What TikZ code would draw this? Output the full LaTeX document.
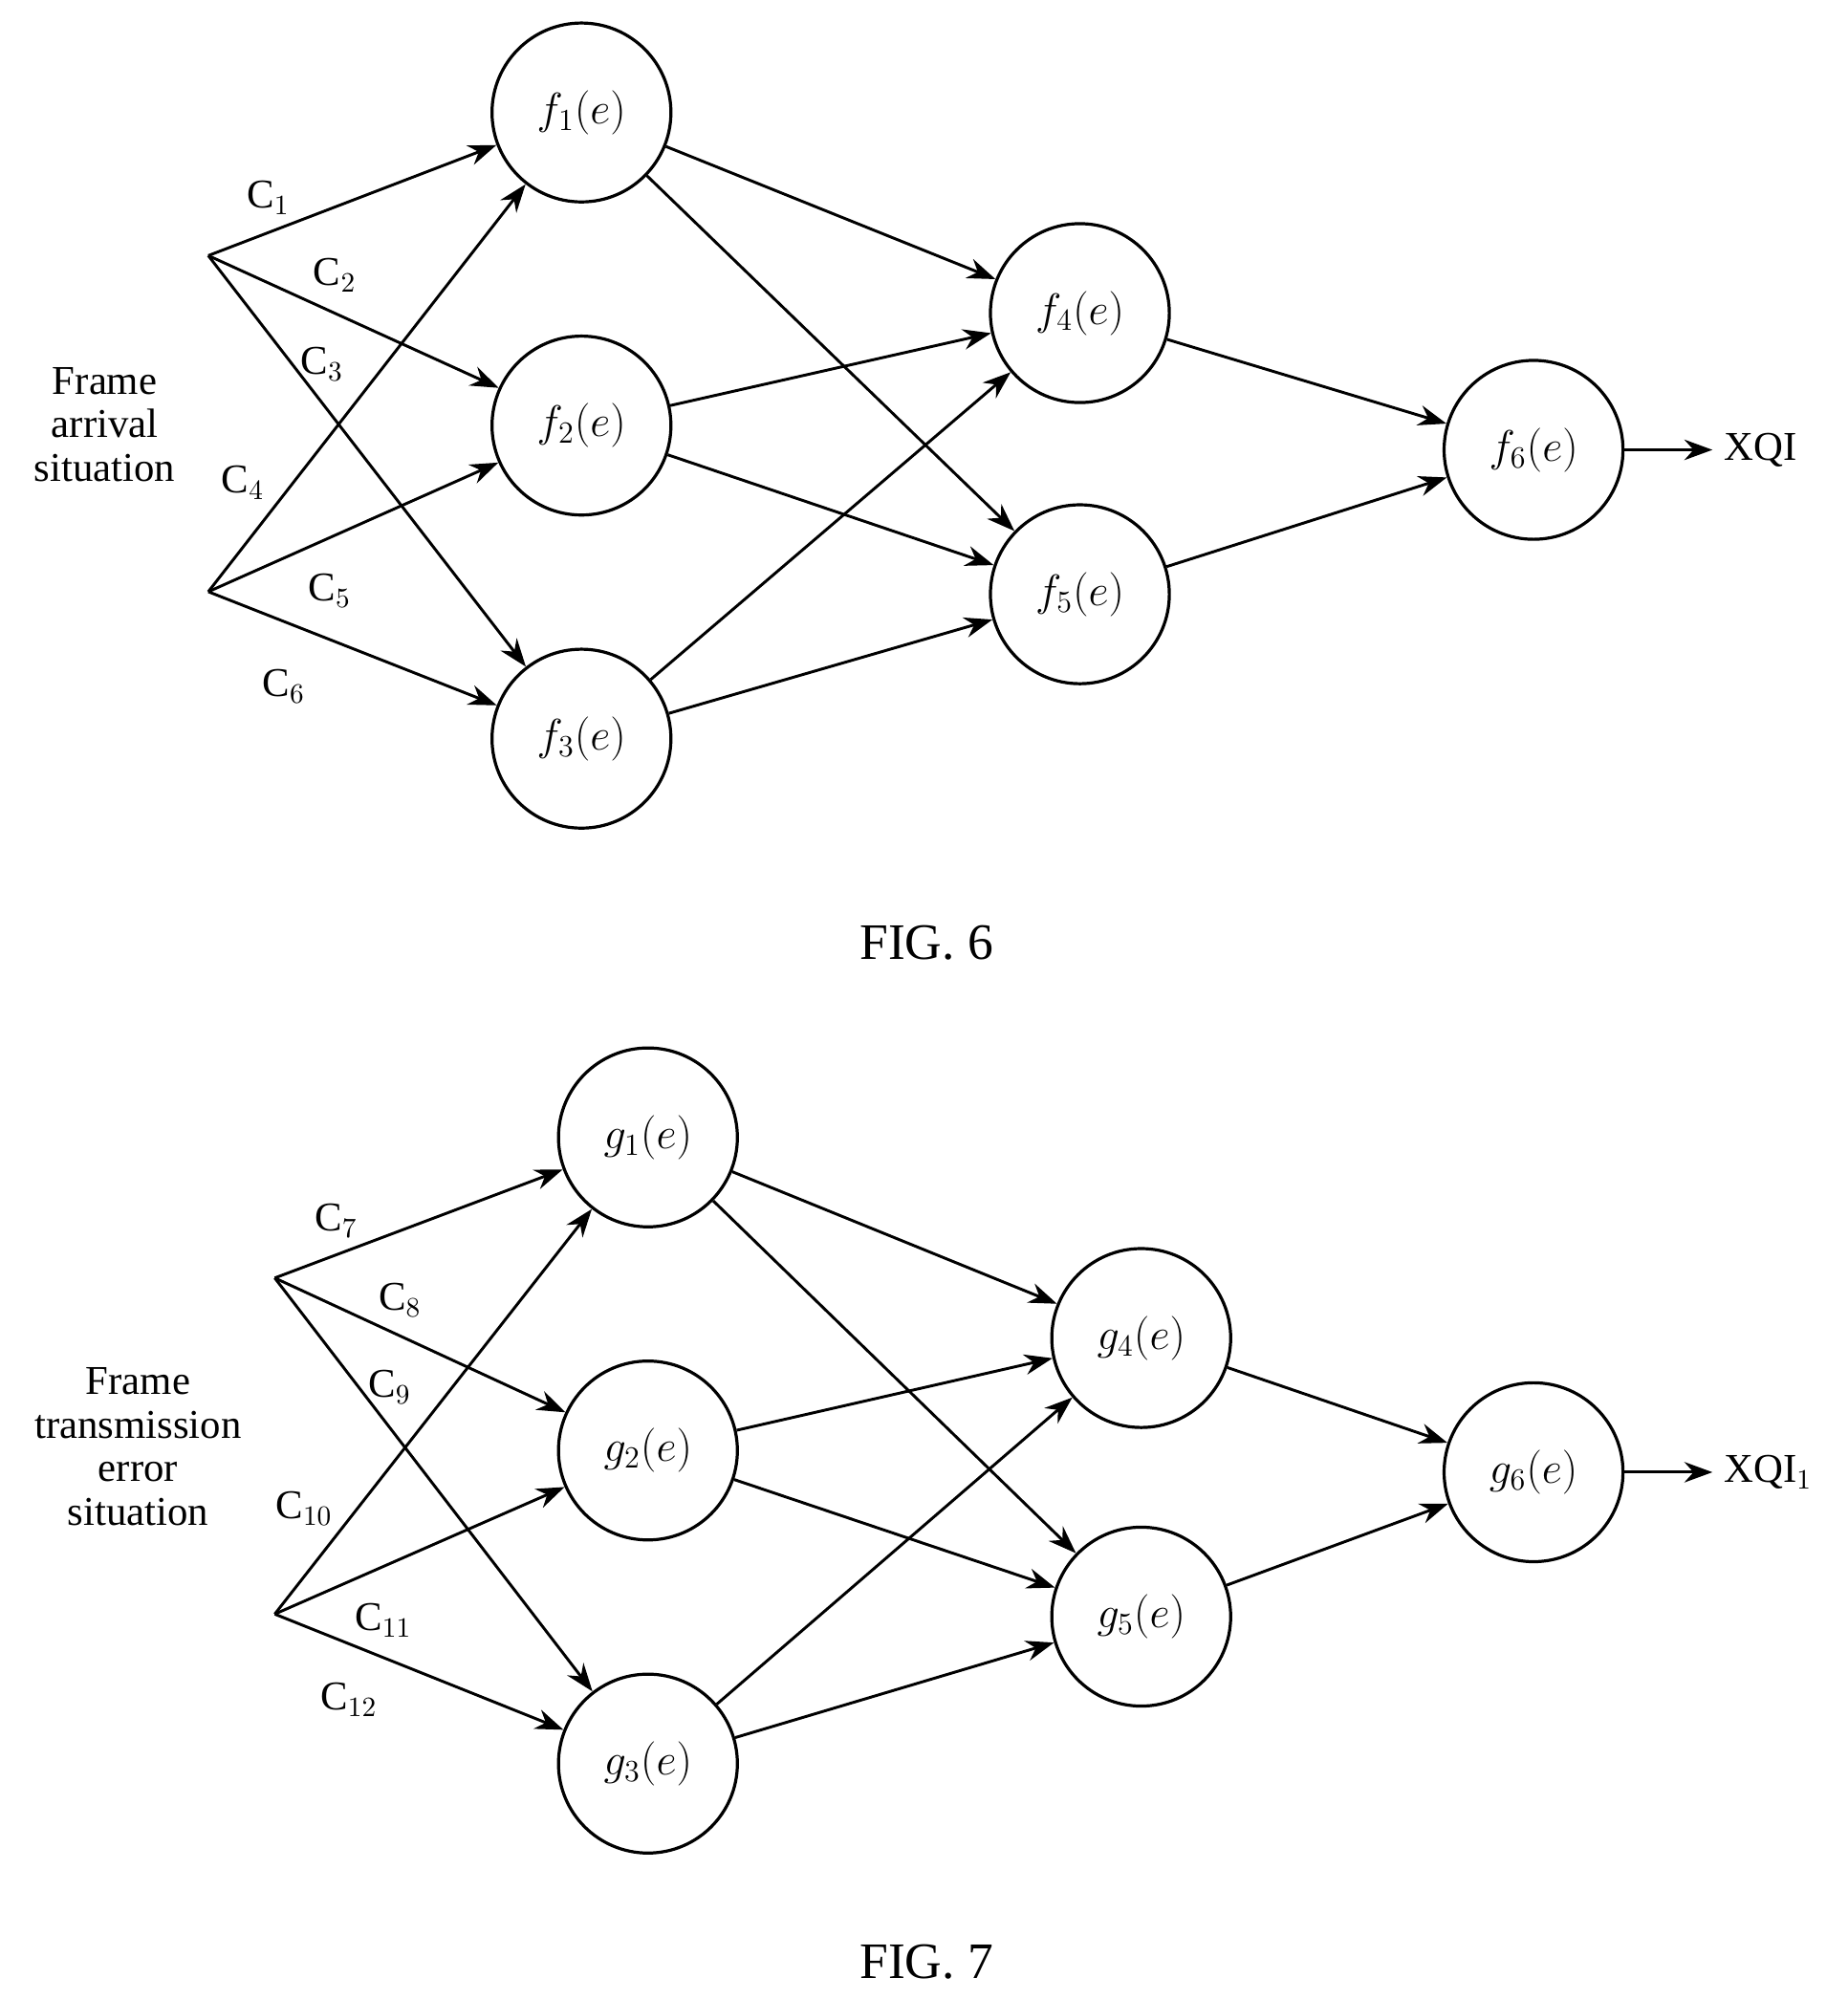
\documentclass[tikz,border=0pt]{standalone}
\usepackage{fontspec}
\setmainfont{Liberation Serif}
\usetikzlibrary{arrows.meta}
\begin{document}
\begin{tikzpicture}[x=0.5pt,y=-0.5pt,
  nd/.style={circle,draw,line width=1.2pt,minimum size=70pt,inner sep=0pt,font=\fontsize{17}{20}\selectfont},
  ar/.style={-{Stealth[length=11pt,width=8pt]},line width=1.1pt},
  ln/.style={line width=1.1pt},
  lb/.style={font=\fontsize{16}{19}\selectfont},
  every node/.append style={font=\fontsize{16}{19}\selectfont}]
\useasboundingbox (0,0) rectangle (1446,1565);
% FIG 6
\node[nd] (f1) at (455,88) {$f_1(e)$};
\node[nd] (f2) at (455,333) {$f_2(e)$};
\node[nd] (f3) at (455,578) {$f_3(e)$};
\node[nd] (f4) at (845,245) {$f_4(e)$};
\node[nd] (f5) at (845,465) {$f_5(e)$};
\node[nd] (f6) at (1200,352) {$f_6(e)$};
\coordinate (s1) at (163,200);
\coordinate (s2) at (163,463);
\coordinate (x6) at (1340,352);
\node[align=center,lb] (t6) at (82,332) {Frame\\[-2pt]arrival\\[-2pt]situation};
\draw[ar] (s1) -- (f1);
\draw[ar] (s1) -- (f2);
\draw[ar] (s1) -- (f3);
\draw[ar] (s2) -- (f1);
\draw[ar] (s2) -- (f2);
\draw[ar] (s2) -- (f3);
\foreach \a in {f1,f2,f3}{\draw[ar] (\a) -- (f4); \draw[ar] (\a) -- (f5);}
\draw[ar] (f4) -- (f6);
\draw[ar] (f5) -- (f6);
\draw[ar] (f6) -- (x6);
\node[lb,anchor=west] (q6) at (1342,352) {XQI};
\node[lb] (c1) at (210,155) {C$_1$};
\node[lb] (c2) at (262,215) {C$_2$};
\node[lb] (c3) at (252,285) {C$_3$};
\node[lb] (c4) at (190,378) {C$_4$};
\node[lb] (c5) at (258,462) {C$_5$};
\node[lb] (c6) at (222,537) {C$_6$};
\node[font=\fontsize{20}{24}\selectfont] (fig6) at (725,738) {FIG. 6};
% FIG 7
\node[nd] (g1) at (507,890) {$g_1(e)$};
\node[nd] (g2) at (507,1135) {$g_2(e)$};
\node[nd] (g3) at (507,1380) {$g_3(e)$};
\node[nd] (g4) at (893,1047) {$g_4(e)$};
\node[nd] (g5) at (893,1265) {$g_5(e)$};
\node[nd] (g6) at (1200,1152) {$g_6(e)$};
\coordinate (u1) at (215,1000);
\coordinate (u2) at (215,1263);
\coordinate (x7) at (1340,1152);
\node[align=center,lb] (t7) at (108,1132) {Frame\\[-2pt]transmission\\[-2pt]error\\[-2pt]situation};
\foreach \s in {u1,u2}{\foreach \a in {g1,g2,g3}{\draw[ar] (\s) -- (\a);}}
\foreach \a in {g1,g2,g3}{\draw[ar] (\a) -- (g4); \draw[ar] (\a) -- (g5);}
\draw[ar] (g4) -- (g6);
\draw[ar] (g5) -- (g6);
\draw[ar] (g6) -- (x7);
\node[lb,anchor=west] (q7) at (1342,1152) {XQI$_1$};
\node[lb] (c7) at (263,955) {C$_7$};
\node[lb] (c8) at (313,1017) {C$_8$};
\node[lb] (c9) at (305,1085) {C$_9$};
\node[lb] (c10) at (238,1180) {C$_{10}$};
\node[lb] (c11) at (300,1268) {C$_{11}$};
\node[lb] (c12) at (273,1330) {C$_{12}$};
\node[font=\fontsize{20}{24}\selectfont] (fig7) at (725,1535) {FIG. 7};
\end{tikzpicture}
\end{document}
